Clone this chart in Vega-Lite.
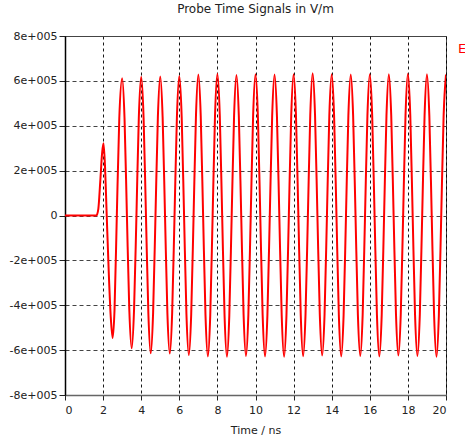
{
  "$schema": "https://vega.github.io/schema/vega-lite/v6.json",
  "autosize": "none",
  "width": 381,
  "height": 359,
  "padding": {"left": 65, "top": 36, "right": 19, "bottom": 48},
  "background": "white",
  "title": {"text": "Probe Time Signals in V/m", "font": "DejaVu Sans", "fontSize": 12, "fontWeight": "normal", "color": "#222", "offset": 14, "anchor": "middle"},
  "config": {
    "view": {"stroke": "#444", "strokeWidth": 1},
    "axis": {"labelFont": "DejaVu Sans", "labelFontSize": 11, "labelColor": "#222", "titleFont": "DejaVu Sans", "titleFontSize": 11, "titleFontWeight": "normal", "titleColor": "#222", "tickColor": "#222", "domainColor": "#222"}
  },
  "data": {"values": [
    {"t": 0, "E": 0}, {"t": 1.65, "E": 0}, {"t": 1.75, "E": 30000}, {"t": 1.85, "E": 150000}, {"t": 1.95, "E": 280000}, {"t": 2.02, "E": 322000}, {"t": 2.1, "E": 220000}, {"t": 2.19, "E": 0}, {"t": 2.3, "E": -260000}, {"t": 2.4, "E": -450000}, {"t": 2.5, "E": -546000}, {"t": 2.6, "E": -420000}, {"t": 2.72, "E": 0}, {"t": 2.85, "E": 433000},
    {"t": 3, "E": 612000}, {"t": 3.125, "E": 433000}, {"t": 3.25, "E": 0}, {"t": 3.375, "E": -419000}, {"t": 3.5, "E": -592000}, {"t": 3.625, "E": -419000}, {"t": 3.75, "E": 0}, {"t": 3.875, "E": 437000},
    {"t": 4, "E": 618000}, {"t": 4.125, "E": 437000}, {"t": 4.25, "E": 0}, {"t": 4.375, "E": -434000}, {"t": 4.5, "E": -614000}, {"t": 4.625, "E": -434000}, {"t": 4.75, "E": 0}, {"t": 4.875, "E": 438000},
    {"t": 5, "E": 620000}, {"t": 5.125, "E": 438000}, {"t": 5.25, "E": 0}, {"t": 5.375, "E": -435000}, {"t": 5.5, "E": -615000}, {"t": 5.625, "E": -435000}, {"t": 5.75, "E": 0}, {"t": 5.875, "E": 440000},
    {"t": 6, "E": 622000}, {"t": 6.125, "E": 440000}, {"t": 6.25, "E": 0}, {"t": 6.375, "E": -440000}, {"t": 6.5, "E": -622000}, {"t": 6.625, "E": -440000}, {"t": 6.75, "E": 0}, {"t": 6.875, "E": 444000},
    {"t": 7, "E": 628000}, {"t": 7.125, "E": 444000}, {"t": 7.25, "E": 0}, {"t": 7.375, "E": -444000}, {"t": 7.5, "E": -628000}, {"t": 7.625, "E": -444000}, {"t": 7.75, "E": 0}, {"t": 7.875, "E": 447000},
    {"t": 8, "E": 632000}, {"t": 8.125, "E": 447000}, {"t": 8.25, "E": 0}, {"t": 8.375, "E": -445000}, {"t": 8.5, "E": -630000}, {"t": 8.625, "E": -445000}, {"t": 8.75, "E": 0}, {"t": 8.875, "E": 443000},
    {"t": 9, "E": 626000}, {"t": 9.125, "E": 443000}, {"t": 9.25, "E": 0}, {"t": 9.375, "E": -443000}, {"t": 9.5, "E": -626000}, {"t": 9.625, "E": -443000}, {"t": 9.75, "E": 0}, {"t": 9.875, "E": 445000},
    {"t": 10, "E": 630000}, {"t": 10.125, "E": 445000}, {"t": 10.25, "E": 0}, {"t": 10.375, "E": -444000}, {"t": 10.5, "E": -628000}, {"t": 10.625, "E": -444000}, {"t": 10.75, "E": 0}, {"t": 10.875, "E": 444000},
    {"t": 11, "E": 628000}, {"t": 11.125, "E": 444000}, {"t": 11.25, "E": 0}, {"t": 11.375, "E": -445000}, {"t": 11.5, "E": -630000}, {"t": 11.625, "E": -445000}, {"t": 11.75, "E": 0}, {"t": 11.875, "E": 445000},
    {"t": 12, "E": 630000}, {"t": 12.125, "E": 445000}, {"t": 12.25, "E": 0}, {"t": 12.375, "E": -443000}, {"t": 12.5, "E": -627000}, {"t": 12.625, "E": -443000}, {"t": 12.75, "E": 0}, {"t": 12.875, "E": 448000},
    {"t": 13, "E": 634000}, {"t": 13.125, "E": 448000}, {"t": 13.25, "E": 0}, {"t": 13.375, "E": -441000}, {"t": 13.5, "E": -624000}, {"t": 13.625, "E": -441000}, {"t": 13.75, "E": 0}, {"t": 13.875, "E": 445000},
    {"t": 14, "E": 630000}, {"t": 14.125, "E": 445000}, {"t": 14.25, "E": 0}, {"t": 14.375, "E": -444000}, {"t": 14.5, "E": -628000}, {"t": 14.625, "E": -444000}, {"t": 14.75, "E": 0}, {"t": 14.875, "E": 444000},
    {"t": 15, "E": 628000}, {"t": 15.125, "E": 444000}, {"t": 15.25, "E": 0}, {"t": 15.375, "E": -443000}, {"t": 15.5, "E": -626000}, {"t": 15.625, "E": -443000}, {"t": 15.75, "E": 0}, {"t": 15.875, "E": 445000},
    {"t": 16, "E": 630000}, {"t": 16.125, "E": 445000}, {"t": 16.25, "E": 0}, {"t": 16.375, "E": -444000}, {"t": 16.5, "E": -628000}, {"t": 16.625, "E": -444000}, {"t": 16.75, "E": 0}, {"t": 16.875, "E": 445000},
    {"t": 17, "E": 630000}, {"t": 17.125, "E": 445000}, {"t": 17.25, "E": 0}, {"t": 17.375, "E": -441000}, {"t": 17.5, "E": -624000}, {"t": 17.625, "E": -441000}, {"t": 17.75, "E": 0}, {"t": 17.875, "E": 447000},
    {"t": 18, "E": 632000}, {"t": 18.125, "E": 447000}, {"t": 18.25, "E": 0}, {"t": 18.375, "E": -443000}, {"t": 18.5, "E": -626000}, {"t": 18.625, "E": -443000}, {"t": 18.75, "E": 0}, {"t": 18.875, "E": 445000},
    {"t": 19, "E": 630000}, {"t": 19.125, "E": 445000}, {"t": 19.25, "E": 0}, {"t": 19.375, "E": -445000}, {"t": 19.5, "E": -630000}, {"t": 19.625, "E": -445000}, {"t": 19.75, "E": 0}, {"t": 19.875, "E": 444000},
    {"t": 20, "E": 628000}
  ]},
  "transform": [{"fold": ["E"], "as": ["series", "value"]}],
  "mark": {"type": "line", "interpolate": "monotone", "strokeWidth": 2, "clip": true},
  "encoding": {
    "x": {"field": "t", "type": "quantitative", "scale": {"domain": [0, 20], "nice": false, "zero": false},
      "axis": {"title": "Time / ns", "values": [0,2,4,6,8,10,12,14,16,18,20], "grid": true, "gridColor": "#000", "gridDash": [3,3], "gridOpacity": 0.9, "gridWidth": 1, "tickSize": 5, "labelPadding": 4, "titlePadding": 9, "domainColor": "#666", "domainWidth": 1.5}},
    "y": {"field": "value", "type": "quantitative", "scale": {"domain": [-800000, 800000], "nice": false},
      "axis": {"title": null, "values": [-800000,-600000,-400000,-200000,0,200000,400000,600000,800000], "labelExpr": "datum.value == 0 ? '0' : (datum.value/100000) + 'e+005'", "grid": true, "gridColor": "#444", "gridDash": [4,3], "gridWidth": 1.2, "tickSize": 6, "labelPadding": 2, "domainColor": "#000", "domainWidth": 1.5}},
    "color": {"field": "series", "type": "nominal", "scale": {"domain": ["E"], "range": ["#ff0000"]},
      "legend": {"orient": "none", "legendX": 380, "legendY": 6, "title": null, "symbolSize": 0, "symbolStrokeWidth": 0, "symbolOpacity": 0, "labelColor": "#ff0000", "labelFont": "DejaVu Sans", "labelFontSize": 13, "labelOffset": 0, "padding": 0, "symbolType": "circle"}}
  }
}
